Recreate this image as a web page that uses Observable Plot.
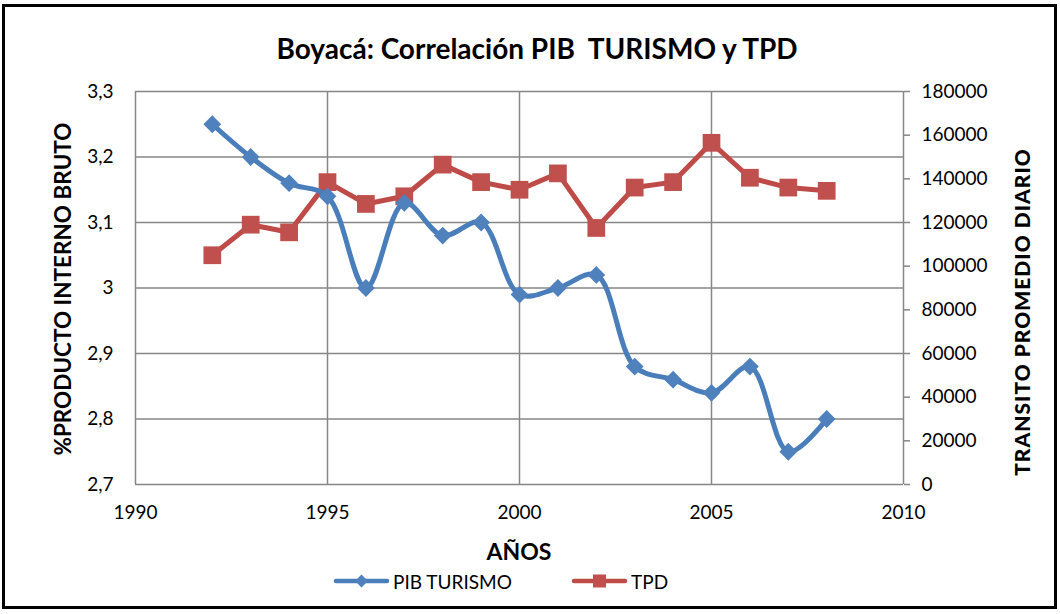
<!DOCTYPE html>
<html>
<head>
<meta charset="utf-8">
<script src="https://cdn.jsdelivr.net/npm/d3@7"></script>
<script src="https://cdn.jsdelivr.net/npm/@observablehq/plot@0.6"></script>
<style>
  html, body { margin: 0; padding: 0; background: #fff; }
  #wrap { position: relative; width: 1060px; height: 614px; font-family: Lato, "Open Sans", sans-serif; color: #000; }
  #border { position: absolute; left: 2px; top: 4px; width: 1049px; height: 599px; border: 3px solid #000; pointer-events: none; }
  .t { position: absolute; white-space: nowrap; }
  #title { left: 0; width: 1074px; top: 31px; text-align: center; font-size: 28px; font-weight: bold; }
  #ylab { left: 62px; top: 289px; font-size: 22.5px; font-weight: bold; transform: translate(-50%, -50%) rotate(-90deg); }
  #y2lab { left: 1021px; top: 312px; font-size: 21px; font-weight: 900; letter-spacing: 1px; transform: translate(-50%, -50%) rotate(-90deg); }
  #xlab { left: 519px; top: 551px; font-size: 23px; font-weight: bold; transform: translate(-50%, -50%); }
  .leg { position: absolute; top: 570px; height: 22px; display: flex; align-items: center; font-size: 19px; }
  .leg svg { margin-right: 3px; }
</style>
</head>
<body>
<div id="wrap">
  <div id="chart"></div>
  <div class="t" id="title">Boyacá: Correlación PIB&nbsp; TURISMO y TPD</div>
  <div class="t" id="ylab">%PRODUCTO INTERNO BRUTO</div>
  <div class="t" id="y2lab">TRANSITO PROMEDIO DIARIO</div>
  <div class="t" id="xlab">AÑOS</div>
  <div class="leg" style="left:333px"><svg width="57" height="22"><line x1="3" y1="11" x2="54" y2="11" stroke="#4A7EBB" stroke-width="4.5" stroke-linecap="round"/><path d="M28.5,4.5 L35,11 L28.5,17.5 L22,11 Z" fill="#4F81BD"/></svg>PIB TURISMO</div>
  <div class="leg" style="left:571px"><svg width="57" height="22"><line x1="3" y1="11" x2="54" y2="11" stroke="#BE4B48" stroke-width="4.5" stroke-linecap="round"/><rect x="22" y="4.5" width="13" height="13" fill="#C0504D"/></svg>TPD</div>
  <div id="border"></div>
</div>
<script>
const years = [1992,1993,1994,1995,1996,1997,1998,1999,2000,2001,2002,2003,2004,2005,2006,2007,2008];
const pibTurismo = [3.25,3.20,3.16,3.14,3.00,3.13,3.08,3.10,2.99,3.00,3.02,2.88,2.86,2.84,2.88,2.75,2.80];
const tpd = [105000,119000,115500,138500,128500,132000,146500,138500,135000,142500,117500,136000,138500,156500,140500,136000,134500];
const xTicks = [1990,1995,2000,2005,2010];
const leftTicks = [2.7,2.8,2.9,3.0,3.1,3.2,3.3];
const rightTicks = [0,20000,40000,60000,80000,100000,120000,140000,160000,180000];

const yMin = 2.7, yMax = 3.3, tMax = 180000;
const toLeft = v => yMin + v / tMax * (yMax - yMin);
const fromLeft = d => Math.round((d - yMin) / (yMax - yMin) * tMax);

const pibData = years.map((x, i) => ({x, y: pibTurismo[i]}));
const tpdData = years.map((x, i) => ({x, y: toLeft(tpd[i])}));

const grid = "#868686";
const chart = Plot.plot({
  width: 1060,
  height: 614,
  marginLeft: 135,
  marginRight: 157,
  marginTop: 91,
  marginBottom: 130,
  style: {fontFamily: "Lato, 'Open Sans', sans-serif", fontSize: "19px", color: "#000", background: "transparent"},
  x: {domain: [1990, 2010]},
  y: {domain: [yMin, yMax]},
  marks: [
    Plot.ruleY(leftTicks, {stroke: grid, strokeWidth: 1.5}),
    Plot.ruleX(xTicks, {stroke: grid, strokeWidth: 1.5}),
    Plot.axisX({ticks: xTicks, tickSize: 0, tickPadding: 21, tickFormat: d => String(d), label: null, fontSize: 19}),
    Plot.axisY({anchor: "left", ticks: leftTicks, tickSize: 0, tickPadding: 22, tickFormat: d => String(+d.toFixed(1)).replace(".", ","), label: null, fontSize: 19}),
    Plot.axisY({anchor: "right", ticks: rightTicks.map(toLeft), tickSize: 6, stroke: grid, strokeWidth: 1.5, tickPadding: 12, tickFormat: d => String(fromLeft(d)), label: null, fontSize: 19}),
    Plot.line(tpdData, {x: "x", y: "y", stroke: "#BE4B48", strokeWidth: 5}),
    Plot.dot(tpdData, {x: "x", y: "y", symbol: "square", r: 10, fill: "#C0504D", stroke: "none"}),
    Plot.line(pibData, {x: "x", y: "y", stroke: "#4A7EBB", strokeWidth: 5, curve: "catmull-rom"}),
    Plot.dot(pibData, {x: "x", y: "y", symbol: "diamond2", r: 8, fill: "#4F81BD", stroke: "none"})
  ]
});
document.getElementById("chart").appendChild(chart);
</script>
</body>
</html>
